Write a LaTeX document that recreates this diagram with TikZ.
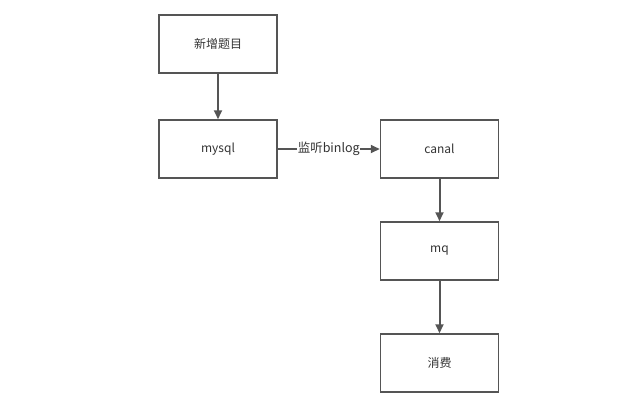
\documentclass[tikz,border=0pt]{standalone}
\usepackage{fontspec}
\setmainfont{Noto Sans CJK SC}
\usetikzlibrary{arrows.meta}
\definecolor{edge}{HTML}{555555}
\definecolor{txt}{HTML}{333333}
\tikzset{
  box/.style={draw=edge, line width=1.5pt, minimum width=118pt, minimum height=58pt, inner sep=0pt, text=txt, font=\fontsize{12}{14}\selectfont},
  conn/.style={draw=edge, line width=2pt, -{Triangle[length=9pt,width=8pt]}},
  lbl/.style={fill=white, text=txt, inner sep=0.5pt, font=\fontsize{12.5}{14}\selectfont}
}
\begin{document}
\begin{tikzpicture}[x=1pt,y=-1pt]
\useasboundingbox (0,0) rectangle (623,405);
\node[box] (add) at (218,44) {新增题目};
\node[box] (mysql) at (218,149) {mysql};
\node[box] (canal) at (439.5,149) {canal};
\node[box] (mq) at (439.5,251) {mq};
\node[box] (consume) at (439.5,363) {消费};
\draw[conn] (add) -- (mysql);
\draw[conn] (mysql) -- node[lbl] {监听binlog} (canal);
\draw[conn] (canal) -- (mq);
\draw[conn] (mq) -- (consume);
\end{tikzpicture}
\end{document}
